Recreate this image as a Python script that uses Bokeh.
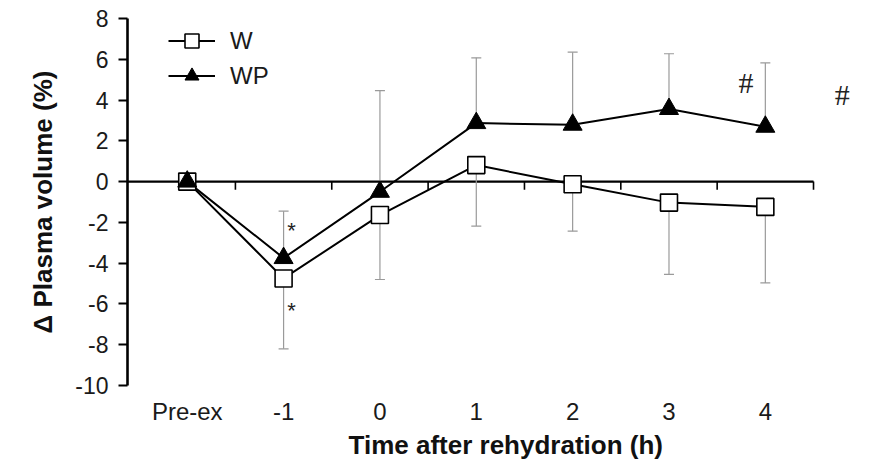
from bokeh.plotting import figure
from bokeh.models import Range1d, FixedTicker, Legend, LegendItem, Title, ColumnDataSource
from bokeh.embed import file_html
from bokeh.resources import INLINE
from bokeh.core.properties import value

# ---- data ----
labels = ["Pre-ex", "-1", "0", "1", "2", "3", "4"]
w_mean = [0.0, -4.75, -1.64, 0.81, -0.13, -1.03, -1.24]
w_sd = [0.0, 3.45, 3.16, 2.99, 2.30, 3.52, 3.73]
wp_mean = [0.0, -3.75, -0.50, 2.87, 2.79, 3.56, 2.69]
wp_sd = [0.0, 2.30, 4.96, 3.20, 3.56, 2.71, 3.13]
y_ticks = [-10, -8, -6, -4, -2, 0, 2, 4, 6, 8]
marks = ["*", "*", "#", "#"]
mark_idx = [1, 1, 5, 6]
mark_y = [-2.08, -6.02, 4.85, 4.26]

xs = list(range(len(labels)))
FONT = "Liberation Sans"
GRAY = "#9a9a9a"
X0, X1 = -0.62, 6.5          # extent of the drawn x axis line
XEND = X0 + (884 - 14 - 127) / 96.35

p = figure(width=884, height=462, x_range=Range1d(X0, XEND), y_range=Range1d(-10, 8),
           min_border_left=127, min_border_right=14, min_border_top=18, min_border_bottom=77,
           output_backend="svg", toolbar_location=None)
p.xgrid.visible = False
p.ygrid.visible = False
p.outline_line_color = None
p.background_fill_color = "white"
p.border_fill_color = "white"

# zero line acting as x axis
p.segment(x0=[X0], y0=[0], x1=[X1], y1=[0], line_color="black", line_width=2.2)
bounds = [i + 0.5 for i in xs]
p.segment(x0=bounds, y0=[0] * len(bounds), x1=bounds, y1=[-0.4] * len(bounds),
          line_color="black", line_width=1.6)

# error bars: W downward, WP upward
idx = xs[1:]
w_lo = [w_mean[i] - w_sd[i] for i in idx]
wp_hi = [wp_mean[i] + wp_sd[i] for i in idx]
p.segment(x0=idx, y0=[w_mean[i] for i in idx], x1=idx, y1=w_lo, line_color=GRAY, line_width=1.2)
p.segment(x0=idx, y0=[wp_mean[i] for i in idx], x1=idx, y1=wp_hi, line_color=GRAY, line_width=1.2)
p.scatter(idx, w_lo, marker="dash", size=10, line_color=GRAY, line_width=1.2)
p.scatter(idx, wp_hi, marker="dash", size=10, line_color=GRAY, line_width=1.2)

# series
w_line = p.line(xs, w_mean, line_color="black", line_width=2)
wp_line = p.line(xs, wp_mean, line_color="black", line_width=2)
w_pts = p.scatter(xs, w_mean, marker="square", size=17, fill_color="white",
                  line_color="black", line_width=1.6)
wp_pts = p.scatter(xs, wp_mean, marker="triangle", size=19, fill_color="black",
                   line_color="black", line_width=1)

# significance marks
ast = ColumnDataSource(dict(x=mark_idx[:2], y=mark_y[:2], t=marks[:2]))
hsh = ColumnDataSource(dict(x=mark_idx[2:], y=mark_y[2:], t=marks[2:]))
p.text(x="x", y="y", text="t", source=ast, x_offset=8, y_offset=6,
       text_font=value(FONT), text_font_size="22px", text_color="#222222",
       text_align="center", text_baseline="middle")
p.text(x="x", y="y", text="t", source=hsh, x_offset=77, y_offset=0,
       text_font=value("Liberation Serif"), text_font_size="30px", text_color="#222222",
       text_align="center", text_baseline="middle")

# axes
xa = p.xaxis[0]
xa.ticker = FixedTicker(ticks=xs)
xa.major_label_overrides = {i: lab for i, lab in zip(xs, labels)}
xa.axis_line_color = None
xa.major_tick_line_color = None
xa.minor_tick_line_color = None
xa.major_label_standoff = 6
xa.major_label_text_font = FONT
xa.major_label_text_font_size = "24px"
xa.major_label_text_color = "#1a1a1a"

ya = p.yaxis[0]
ya.ticker = FixedTicker(ticks=y_ticks)
ya.major_label_overrides = {t: str(t) for t in y_ticks}
ya.axis_line_width = 2.6
ya.axis_line_color = "black"
ya.major_tick_line_width = 2.2
ya.major_tick_out = 9
ya.major_tick_in = 0
ya.minor_tick_line_color = None
ya.major_label_standoff = 10
ya.major_label_text_font = FONT
ya.major_label_text_font_size = "23px"
ya.major_label_text_color = "#1a1a1a"
ya.axis_label = "\u0394 Plasma volume (%)"
ya.axis_label_text_font = FONT
ya.axis_label_text_font_size = "26px"
ya.axis_label_text_font_style = "bold"
ya.axis_label_text_color = "#111111"
ya.axis_label_standoff = 14

xt = Title(text="Time after rehydration (h)", align="left", offset=221,
           text_font=FONT, text_font_size="26px", text_font_style="bold",
           text_color="#111111", standoff=0)
p.add_layout(xt, "below")

legend = Legend(items=[LegendItem(label="W", renderers=[w_line, w_pts]),
                       LegendItem(label="WP", renderers=[wp_line, wp_pts])],
                location=(41, 292), padding=0, margin=0, spacing=0,
                glyph_width=47, glyph_height=35, label_standoff=15,
                label_text_font=FONT, label_text_font_size="24px", label_text_color="#1a1a1a",
                border_line_color=None, background_fill_alpha=0)
p.add_layout(legend)

open("out.html", "w").write(file_html(p, INLINE))
